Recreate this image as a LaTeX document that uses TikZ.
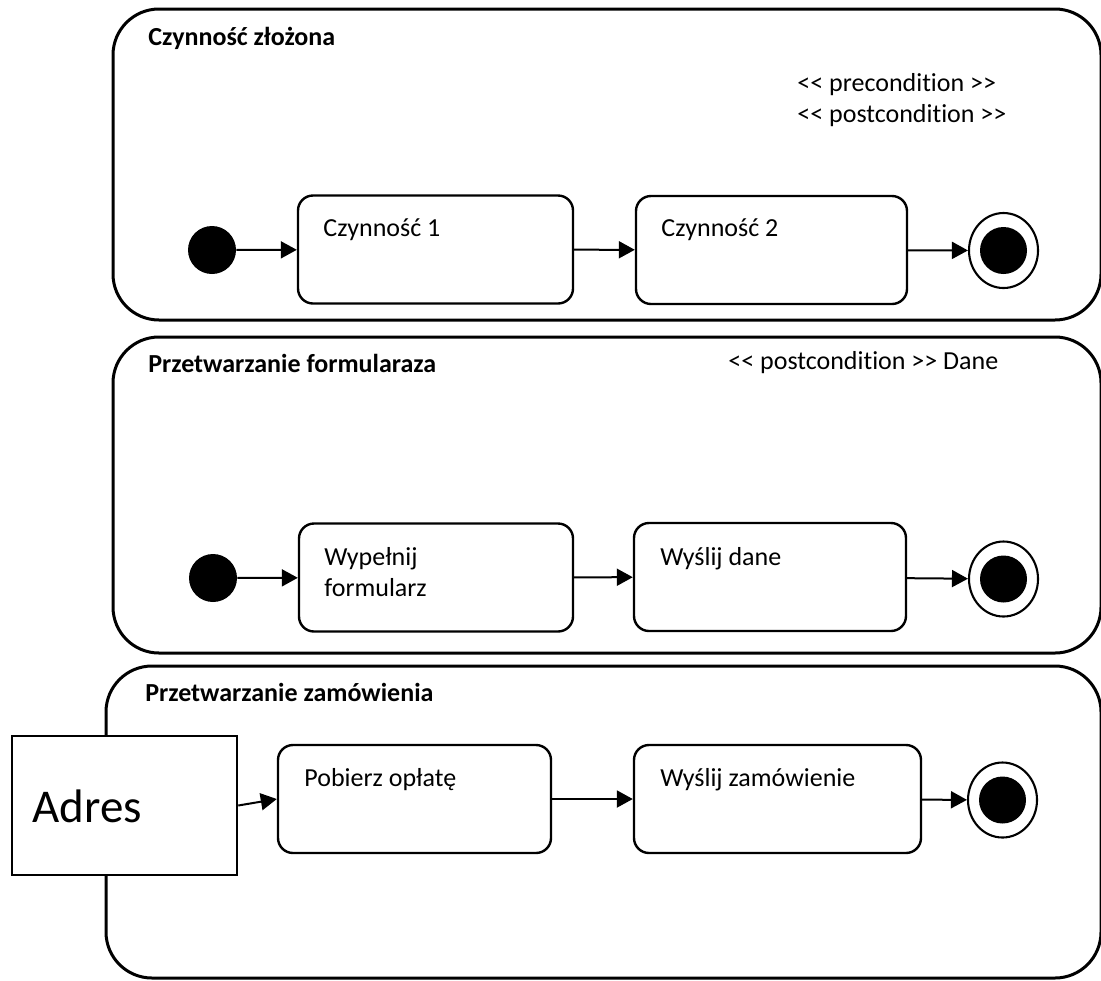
\documentclass[tikz,border=0pt]{standalone}
\usepackage{fontspec}
\setmainfont{Carlito}[Ligatures={NoCommon}]
\usetikzlibrary{arrows.meta,shapes.geometric}
\newcommand{\stopen}{<\kern0pt<}
\newcommand{\stclose}{>\kern0pt>}
\begin{document}
\begin{tikzpicture}[x=0.5pt,y=-0.5pt,
  frame/.style={draw, line width=1.5pt, rounded corners=23pt},
  action/.style={draw, line width=1.2pt, rounded corners=7.5pt, inner sep=0pt, minimum height=54pt},
  startnode/.style={circle, fill=black, inner sep=0pt, minimum size=24pt},
  endring/.style={ellipse, draw, line width=1.05pt, inner sep=0pt, minimum width=34.5pt, minimum height=37.5pt},
  enddot/.style={circle, fill=black, inner sep=0pt, minimum size=23.5pt},
  txt/.style={inner sep=0pt, anchor=base west, font=\fontsize{13}{16}\selectfont},
  ttl/.style={inner sep=0pt, anchor=base west, font=\bfseries\fontsize{13}{16}\selectfont},
  arr/.style={-{Triangle[length=8pt,width=8.5pt]}, line width=1pt}]
\useasboundingbox (0,0) rectangle (1101,980);

% ---------- Czynność złożona ----------
\draw[frame] (113,9) rectangle (1101,320);
\node[ttl] (t1) at (148,45) {Czynność złożona};
\node[txt] (pre) at (797,91) {\stopen{} precondition \stclose};
\node[txt] (post) at (797,122) {\stopen{} postcondition \stclose};
\node[startnode] (i1) at (212,250) {};
\node[action, minimum width=137.5pt] (b11) at (435.5,249.5) {};
\node[action, minimum width=135.5pt] (b12) at (771.5,250) {};
\node[txt] (l11) at (323,236) {Czynność 1};
\node[txt] (l12) at (661,236) {Czynność 2};
\node[endring] (f1) at (1003.5,250.5) {};
\node[enddot] (f1d) at (1003.5,250.5) {};
\draw[arr] (i1) -- (b11);
\draw[arr] (b11) -- (b12);
\draw[arr] (b12) -- (f1);

% ---------- Przetwarzanie formularaza ----------
\draw[frame] (113,337) rectangle (1101,653);
\node[ttl] (t2) at (148,372) {Przetwarzanie formularaza};
\node[txt] (post2) at (728,369) {\stopen{} postcondition \stclose{} Dane};
\node[startnode] (i2) at (213,578) {};
\node[action, minimum width=137pt] (b21) at (436,577.5) {};
\node[action, minimum width=136pt] (b22) at (770,577) {};
\node[txt] (l21a) at (324,565) {Wypełnij};
\node[txt] (l21b) at (324,596) {formularz};
\node[txt] (l22) at (660,565) {Wyślij dane};
\node[endring] (f2) at (1003.5,579) {};
\node[enddot] (f2d) at (1003.5,579) {};
\draw[arr] (i2) -- (b21);
\draw[arr] (b21) -- (b22);
\draw[arr] (b22) -- (f2);

% ---------- Przetwarzanie zamówienia ----------
\draw[frame] (106,666) rectangle (1101,978);
\node[ttl] (t3) at (145,701) {Przetwarzanie zamówienia};
\node[draw, fill=white, line width=1.25pt, inner sep=0pt, minimum width=112.5pt, minimum height=69.5pt] (adres) at (124.5,805.5) {};
\node[inner sep=0pt, anchor=base west, font=\fontsize{23.5}{28}\selectfont] (ladres) at (32,822) {Adres};
\node[action, minimum width=136.5pt] (b31) at (414.5,799) {};
\node[action, minimum width=143.5pt] (b32) at (777.5,799) {};
\node[txt] (l31) at (304,786) {Pobierz opłatę};
\node[txt] (l32) at (660,786) {Wyślij zamówienie};
\node[endring] (f3) at (1002.5,800) {};
\node[enddot] (f3d) at (1002.5,800) {};
\draw[arr] (adres.east) -- (b31.west);
\draw[arr] (b31) -- (b32);
\draw[arr] (b32) -- (f3);
\end{tikzpicture}
\end{document}
